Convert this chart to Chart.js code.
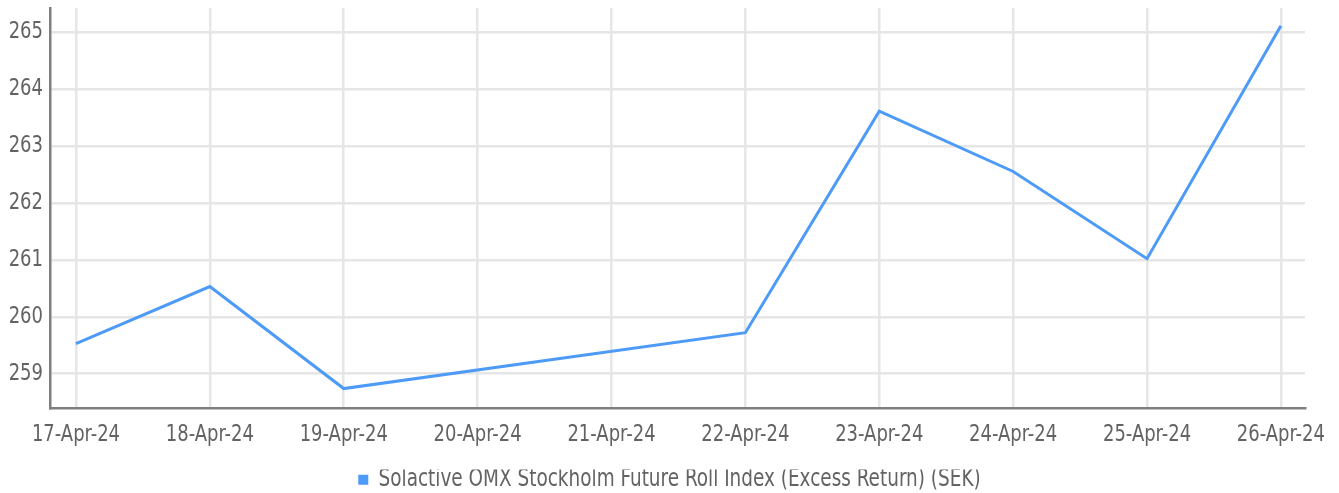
<!DOCTYPE html>
<html>
<head>
<meta charset="utf-8">
<script src="https://cdn.jsdelivr.net/npm/chart.js@4.4.1/dist/chart.umd.min.js"></script>
<style>
  html, body { margin: 0; padding: 0; background: #fff; }
  #wrap { width: 1339px; height: 493px; position: relative; }
</style>
</head>
<body>
<div id="wrap"><canvas id="c" width="1339" height="493"></canvas></div>
<script>
const categories = ["17-Apr-24", "18-Apr-24", "19-Apr-24", "20-Apr-24", "21-Apr-24",
                    "22-Apr-24", "23-Apr-24", "24-Apr-24", "25-Apr-24", "26-Apr-24"];
const seriesName = "Solactive OMX Stockholm Future Roll Index (Excess Return) (SEK)";
const seriesValues = [259.53, 260.53, 258.74, null, null, 259.72, 263.61, 262.55, 261.02, 265.11];
const yTicks = [259, 260, 261, 262, 263, 264, 265];

const FONT = "'DejaVu Sans Condensed', 'Liberation Sans Narrow', 'Roboto', sans-serif";
const TEXT = "#636363";
const LINE = "#4D9BF7";

const canvas = document.getElementById("c");
const ctx = canvas.getContext("2d");
// the reference face is tall and narrow: draw text slightly stretched vertically
const origFillText = ctx.fillText.bind(ctx);
ctx.fillText = function (t, x, y, mw) {
  this.save();
  this.translate(x, y);
  this.scale(1, 1.18);
  if (mw === undefined) origFillText(t, 0, 0); else origFillText(t, 0, 0, mw);
  this.restore();
};

const points = categories.map((c, i) => ({ x: i, y: seriesValues[i] }));

new Chart(ctx, {
  type: "line",
  data: {
    datasets: [{
      label: seriesName,
      data: points,
      borderColor: LINE,
      backgroundColor: LINE,
      borderWidth: 3,
      pointRadius: 0,
      pointHoverRadius: 0,
      tension: 0,
      spanGaps: true
    }]
  },
  options: {
    responsive: false,
    animation: false,
    layout: { padding: { top: 8, right: 0, left: 0, bottom: -7 } },
    plugins: {
      tooltip: { enabled: false },
      legend: {
        position: "bottom",
        labels: {
          boxWidth: 10, boxHeight: 10,
          padding: 0,
          color: TEXT,
          font: { family: FONT, size: 20.5 },
          generateLabels: (chart) => Chart.defaults.plugins.legend.labels.generateLabels(chart)
            .map(l => Object.assign(l, { lineWidth: 0 }))
        }
      }
    },
    scales: {
      x: {
        type: "linear",
        min: -0.194,
        max: 9.18,
        afterBuildTicks: (axis) => { axis.ticks = categories.map((_, i) => ({ value: i })); },
        afterFit: (axis) => { axis.height = 61; axis.paddingRight = 34; axis.paddingLeft = 0; },
        grid: { color: "#e6e6e6", lineWidth: 2.5, drawTicks: false },
        border: { color: "#7f7f7f", width: 2.5 },
        ticks: {
          padding: 14,
          color: TEXT,
          font: { family: FONT, size: 20 },
          maxRotation: 0,
          autoSkip: false,
          callback: (v) => categories[v]
        }
      },
      y: {
        min: 258.39,
        max: 265.42,
        afterBuildTicks: (axis) => { axis.ticks = yTicks.map(v => ({ value: v })); },
        afterFit: (axis) => { axis.width = 50; axis.paddingTop = 0; axis.paddingBottom = 0; },
        grid: { color: "#e6e6e6", lineWidth: 2.5, drawTicks: false },
        border: { color: "#7f7f7f", width: 2.5 },
        ticks: {
          padding: 7,
          color: TEXT,
          font: { family: FONT, size: 20 },
          callback: (v) => String(v)
        }
      }
    }
  }
});
</script>
</body>
</html>
